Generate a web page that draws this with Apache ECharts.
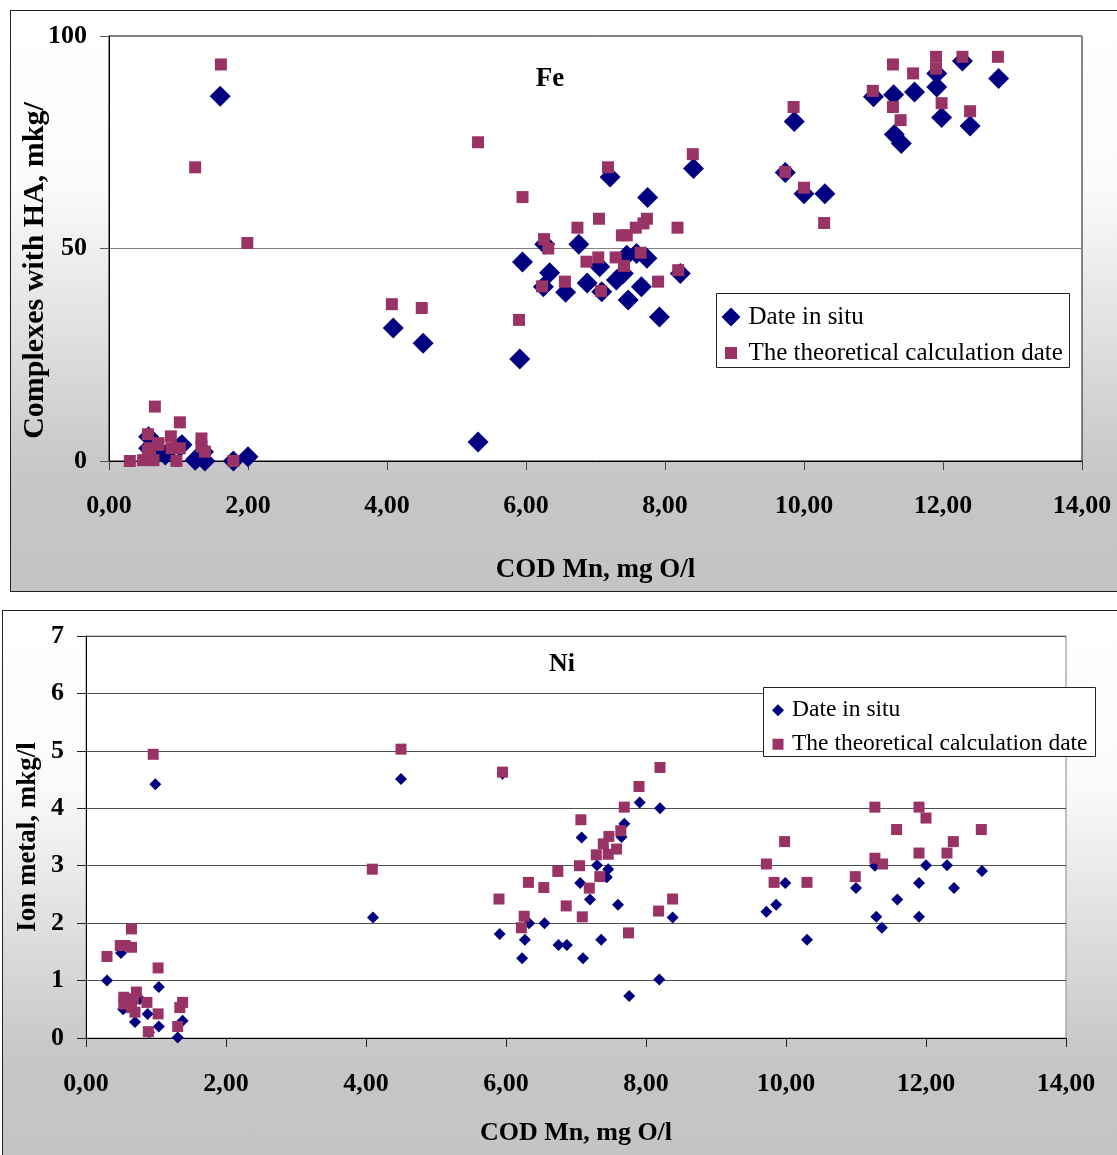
<!DOCTYPE html>
<html lang="en">
<head>
    <meta charset="utf-8">
    <title>Fe / Ni</title>
    <script src="https://cdn.jsdelivr.net/npm/echarts@6/dist/echarts.min.js"></script>
    <style>
        body { margin: 0; background: #fff; overflow: hidden; width: 1117px; height: 1155px; position: relative; }
        .frame {
            position: absolute;
            border: 1px solid #222;
            background: linear-gradient(to bottom, #ffffff 0%, #fbfbfb 30%, #d6d6d6 65%, #c6c6c6 80%, #c4c4c4 100%);
        }
        #fe { left: 10px; top: 10px; width: 1120px; height: 580px; }
        #ni { left: 2px; top: 610px; width: 1130px; height: 560px; }
    </style>
</head>
<body>
<div id="fe" class="frame"></div>
<div id="ni" class="frame"></div>

<script type="text/javascript">
    // Fe: COD Mn (mg O/l) vs complexes with HA
    var feInSitu = [
        [1.60, 85.8], [4.09, 31.3], [4.52, 27.7], [5.31, 4.5], [5.91, 24.0], [5.95, 46.8],
        [6.27, 51.0], [6.34, 44.3], [6.25, 41.0], [6.57, 39.7], [6.76, 51.0], [7.06, 45.7],
        [6.88, 41.9], [7.09, 39.8], [7.21, 66.8], [7.30, 42.6], [7.47, 37.9], [7.45, 48.4],
        [7.59, 48.8], [7.66, 41.0], [7.74, 47.7], [7.75, 62.0], [7.92, 33.9], [8.22, 44.1],
        [8.41, 68.8], [7.40, 44.1],
        [9.86, 79.9], [9.73, 67.9], [10.00, 62.9], [10.30, 62.9], [11.00, 85.7], [11.29, 86.2],
        [11.59, 86.8], [11.30, 76.8], [11.40, 74.7], [11.91, 88.0], [11.91, 91.2], [11.98, 80.8],
        [12.28, 94.1], [12.80, 90.0], [12.39, 78.8],
        [0.57, 5.7], [0.57, 3.0], [1.02, 3.4], [1.05, 3.8], [1.24, 0.2], [1.38, 0.0],
        [1.36, 2.2], [1.79, 0.0], [2.00, 1.0], [0.66, 1.4], [0.81, 1.4], [1.26, 0.6]
    ];
    var feTheory = [
        [1.61, 93.3], [1.24, 69.1], [1.99, 51.3], [4.07, 36.9], [4.50, 36.0], [5.31, 75.0],
        [5.90, 33.2], [5.95, 62.1], [7.18, 69.1], [8.40, 72.2], [6.74, 54.9], [7.05, 57.0],
        [6.26, 52.2], [6.32, 50.0], [6.87, 46.9], [7.04, 47.9], [7.74, 57.0], [7.69, 55.9],
        [7.58, 54.9], [7.45, 53.1], [7.38, 53.1], [8.18, 54.9], [7.29, 47.9], [7.41, 45.9],
        [7.65, 49.0], [6.56, 42.2], [6.23, 41.1], [7.08, 40.0], [7.90, 42.2], [8.19, 44.9],
        [9.85, 83.3], [9.73, 68.0], [10.00, 64.3], [10.29, 56.0], [10.99, 87.1], [11.28, 93.3],
        [11.57, 91.2], [11.28, 83.3], [11.39, 80.2], [11.90, 95.1], [11.90, 92.3], [11.98, 84.2],
        [12.28, 95.1], [12.79, 95.1], [12.39, 82.3],
        [0.66, 12.8], [1.02, 9.1], [0.30, 0.0], [0.56, 6.3], [0.59, 3.0], [0.71, 4.2],
        [0.89, 5.8], [0.90, 3.0], [1.02, 3.0], [0.64, 0.2], [0.49, 0.2], [0.97, 0.0],
        [1.33, 5.3], [1.33, 3.4], [1.38, 2.2], [1.79, 0.0], [0.56, 2.4], [0.71, 3.8]
    ];

    // Ni: COD Mn (mg O/l) vs ion metal
    var niInSitu = [
        [0.30, 1.00], [0.50, 1.48], [1.04, 0.89], [0.53, 0.50], [0.70, 0.28], [0.88, 0.42],
        [1.04, 0.20], [1.31, 0.01], [1.38, 0.30], [0.90, 0.10], [0.77, 0.68],
        [4.10, 2.10], [4.50, 4.51], [0.99, 4.42], [5.95, 4.60], [5.91, 1.81], [6.27, 1.71],
        [6.23, 1.39], [6.33, 2.00], [6.55, 2.00], [6.75, 1.62], [6.87, 1.62], [7.10, 1.39],
        [7.08, 3.49], [7.06, 2.70], [7.20, 2.41], [7.36, 1.71], [7.30, 3.01], [7.46, 2.94],
        [7.44, 2.80], [7.60, 2.32], [7.69, 3.73], [7.65, 3.50], [7.91, 4.10], [8.20, 4.00],
        [7.76, 0.73], [8.19, 1.02], [8.38, 2.10],
        [9.72, 2.20], [9.86, 2.32], [9.99, 2.70], [10.30, 1.71], [11.00, 2.61], [11.27, 3.00],
        [11.29, 2.11], [11.37, 1.92], [11.59, 2.41], [11.90, 2.70], [11.90, 2.11], [12.00, 3.01],
        [12.30, 3.01], [12.40, 2.61], [12.80, 2.91]
    ];
    var niTheory = [
        [0.30, 1.42], [0.56, 1.61], [0.49, 1.61], [0.65, 1.90], [0.65, 1.58], [1.03, 1.22],
        [0.54, 0.71], [0.54, 0.59], [0.72, 0.80], [0.68, 0.68], [0.70, 0.45], [0.87, 0.62],
        [1.03, 0.42], [0.89, 0.11], [1.31, 0.20], [1.34, 0.53], [1.38, 0.62], [0.65, 0.53],
        [0.96, 4.94], [4.50, 5.03], [4.09, 2.94], [5.95, 4.63], [8.20, 4.71], [7.90, 4.38],
        [7.69, 4.02], [7.07, 3.80], [7.64, 3.61], [7.47, 3.51], [7.39, 3.38], [7.58, 3.29],
        [7.46, 3.20], [7.29, 3.19], [7.05, 3.00], [6.74, 2.90], [7.34, 2.81], [7.19, 2.61],
        [6.32, 2.71], [6.54, 2.62], [5.90, 2.42], [6.86, 2.30], [7.09, 2.11], [6.26, 2.12],
        [6.22, 1.92], [7.75, 1.83], [8.38, 2.42], [8.18, 2.21],
        [9.72, 3.03], [9.83, 2.71], [9.98, 3.42], [10.30, 2.71], [10.99, 2.81], [11.27, 4.02],
        [11.27, 3.13], [11.38, 3.03], [11.58, 3.63], [11.90, 4.02], [12.00, 3.83], [11.90, 3.22],
        [12.30, 3.22], [12.39, 3.42], [12.79, 3.63]
    ];

    var seriesNames = ['Date in situ', 'The theoretical calculation date'];
    var xName = 'COD Mn, mg O/l';
    var xMin = 0, xMax = 14, xStep = 2;

    var NAVY = '#000080';
    var PLUM = '#993366';
    var SERIF = '"Liberation Serif", "Times New Roman", serif';

    function commaFmt(v) {
        return v.toFixed(2).replace('.', ',');
    }

    // one legend per item so every icon keeps its own size
    function legendPair(x, y1, y2, sizeA, sizeB, fontSize) {
        return [
            {
                data: [{ name: seriesNames[0], icon: 'diamond' }],
                left: x - sizeA / 2, top: y1 - fontSize / 2, z: 10,
                itemWidth: sizeA, itemHeight: sizeA, padding: 0, selectedMode: false,
                textStyle: { fontFamily: SERIF, fontSize: fontSize, lineHeight: fontSize, color: '#000', padding: [0, 0, 0, 3] }
            },
            {
                data: [{ name: seriesNames[1], icon: 'rect' }],
                left: x - sizeB / 2, top: y2 - fontSize / 2, z: 10,
                itemWidth: sizeB, itemHeight: sizeB, padding: 0, selectedMode: false,
                textStyle: { fontFamily: SERIF, fontSize: fontSize, lineHeight: fontSize, color: '#000', padding: [0, 0, 0, 3 + (sizeA - sizeB) / 2] }
            }
        ];
    }

    // ---------- Fe ----------
    var feChart = echarts.init(document.getElementById('fe'));
    feChart.setOption({
        animation: false,
        title: {
            text: 'Fe', left: 534, top: 50, textAlign: 'center',
            textStyle: { fontFamily: SERIF, fontSize: 27, fontWeight: 'bold', color: '#000' }
        },
        grid: {
            left: 98, top: 25, width: 973, height: 425, outerBoundsMode: 'none',
            show: true, backgroundColor: '#fff', borderColor: '#111', borderWidth: 1
        },
        graphic: [{
            type: 'rect', left: 705, top: 282, z: 5,
            shape: { width: 353, height: 74 },
            style: { fill: '#fff', stroke: '#222', lineWidth: 1 }
        }],
        legend: legendPair(720, 306, 342, 19, 12, 25),
        xAxis: {
            type: 'value', min: xMin, max: xMax, interval: xStep,
            name: xName, nameLocation: 'middle', nameGap: 96, nameMoveOverlap: false,
            nameTextStyle: { fontFamily: SERIF, fontSize: 27, fontWeight: 'bold', color: '#000' },
            axisLine: { lineStyle: { color: '#000', width: 1 } },
            axisTick: { show: true, inside: false, length: 9, lineStyle: { color: '#444' } },
            axisLabel: { formatter: commaFmt, margin: 32, fontFamily: SERIF, fontSize: 26, fontWeight: 'bold', color: '#000' },
            splitLine: { show: false }
        },
        yAxis: {
            type: 'value', min: 0, max: 100, interval: 50,
            name: 'Complexes with HA, mkg/', nameLocation: 'middle', nameGap: 59, nameRotate: 90,
            nameMoveOverlap: false,
            nameTextStyle: { fontFamily: SERIF, fontSize: 30, fontWeight: 'bold', color: '#000', padding: [0, 44, 0, 0] },
            axisLine: { show: true, lineStyle: { color: '#000', width: 1 } },
            axisTick: { show: true, inside: false, length: 9, lineStyle: { color: '#555' } },
            axisLabel: { margin: 22, fontFamily: SERIF, fontSize: 26, fontWeight: 'bold', color: '#000' },
            splitLine: { show: true, lineStyle: { color: '#808080', width: 1 } }
        },
        series: [
            { name: seriesNames[0], type: 'scatter', data: feInSitu, symbol: 'diamond', symbolSize: 21, itemStyle: { color: NAVY, opacity: 1 } },
            { name: seriesNames[1], type: 'scatter', data: feTheory, symbol: 'rect', symbolSize: 12, itemStyle: { color: PLUM, opacity: 1 } }
        ]
    });

    // ---------- Ni ----------
    var niChart = echarts.init(document.getElementById('ni'));
    niChart.setOption({
        animation: false,
        title: {
            text: 'Ni', left: 554, top: 35, textAlign: 'center',
            textStyle: { fontFamily: SERIF, fontSize: 26, fontWeight: 'bold', color: '#000' }
        },
        grid: {
            left: 83, top: 25, width: 980, height: 402, outerBoundsMode: 'none',
            show: true, backgroundColor: '#fff', borderColor: '#888', borderWidth: 1
        },
        graphic: [{
            type: 'rect', left: 760, top: 76, z: 5,
            shape: { width: 332, height: 69 },
            style: { fill: '#fff', stroke: '#222', lineWidth: 1 }
        }],
        legend: legendPair(775, 99, 133, 12, 11, 23.5),
        xAxis: {
            type: 'value', min: xMin, max: xMax, interval: xStep,
            name: xName, nameLocation: 'middle', nameGap: 82, nameMoveOverlap: false,
            nameTextStyle: { fontFamily: SERIF, fontSize: 26, fontWeight: 'bold', color: '#000' },
            axisLine: { lineStyle: { color: '#000', width: 1 } },
            axisTick: { show: true, inside: false, length: 9, lineStyle: { color: '#222' } },
            axisLabel: { formatter: commaFmt, margin: 33, fontFamily: SERIF, fontSize: 26, fontWeight: 'bold', color: '#000' },
            splitLine: { show: false }
        },
        yAxis: {
            type: 'value', min: 0, max: 7, interval: 1,
            name: 'Ion metal, mkg/l', nameLocation: 'middle', nameGap: 44, nameRotate: 90,
            nameMoveOverlap: false,
            nameTextStyle: { fontFamily: SERIF, fontSize: 27, fontWeight: 'bold', color: '#000' },
            axisLine: { show: true, lineStyle: { color: '#000', width: 1 } },
            axisTick: { show: true, inside: false, length: 9, lineStyle: { color: '#222' } },
            axisLabel: { margin: 22, fontFamily: SERIF, fontSize: 26, fontWeight: 'bold', color: '#000' },
            splitLine: { show: true, lineStyle: { color: '#505050', width: 1 } }
        },
        series: [
            { name: seriesNames[0], type: 'scatter', data: niInSitu, symbol: 'diamond', symbolSize: 12, itemStyle: { color: NAVY, opacity: 1 } },
            { name: seriesNames[1], type: 'scatter', data: niTheory, symbol: 'rect', symbolSize: 11, itemStyle: { color: PLUM, opacity: 1 } }
        ]
    });
</script>
</body>
</html>
